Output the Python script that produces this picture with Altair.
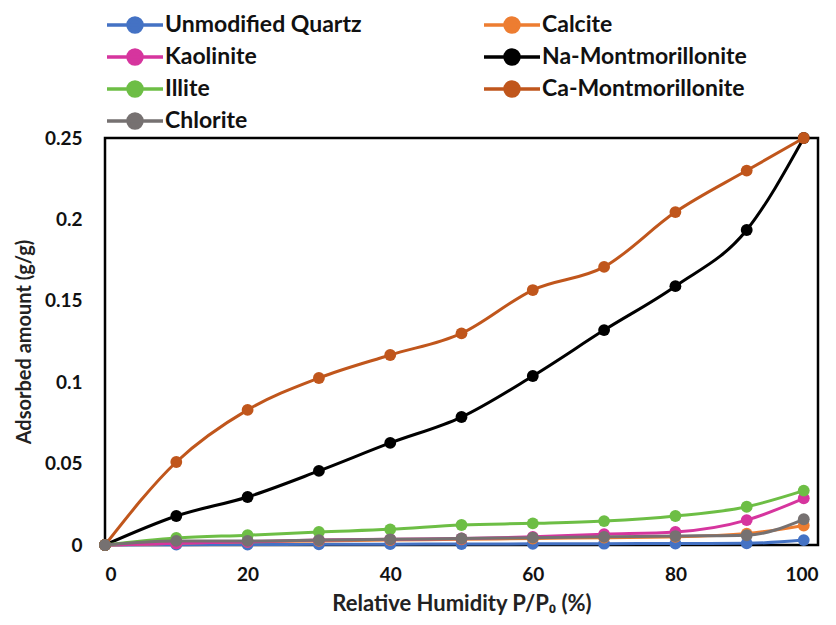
import altair as alt
import pandas as pd

rh = [0, 10, 20, 30, 40, 50, 60, 70, 80, 90, 98]

# drawing order (later series drawn on top)
series_names = ["Unmodified Quartz", "Calcite", "Kaolinite", "Na-Montmorillonite",
                "Illite", "Ca-Montmorillonite", "Chlorite"]
colors = ["#4472C4", "#ED7D31", "#D6359E", "#000000", "#6DBE45", "#C0561C", "#767171"]

# legend order (column-major, two columns)
legend_order = ["Unmodified Quartz", "Kaolinite", "Illite", "Chlorite",
                "Calcite", "Na-Montmorillonite", "Ca-Montmorillonite"]

quartz = [0, 0.0002, 0.0003, 0.0004, 0.0005, 0.0006, 0.0007, 0.0008, 0.0009, 0.001, 0.003]
calcite = [0, 0.001, 0.002, 0.0025, 0.003, 0.0035, 0.004, 0.0045, 0.005, 0.007, 0.012]
kaolinite = [0, 0.001, 0.002, 0.003, 0.0035, 0.004, 0.005, 0.0066, 0.008, 0.0153, 0.0287]
na_mont = [0, 0.0178, 0.0295, 0.0455, 0.0627, 0.0786, 0.1038, 0.132, 0.159, 0.1935, 0.25]
illite = [0, 0.0043, 0.006, 0.008, 0.0096, 0.0123, 0.0133, 0.0147, 0.0178, 0.0235, 0.0334]
ca_mont = [0, 0.051, 0.083, 0.1026, 0.1167, 0.130, 0.1566, 0.1708, 0.2045, 0.230, 0.25]
chlorite = [0, 0.0025, 0.0025, 0.003, 0.0035, 0.004, 0.0045, 0.005, 0.0055, 0.006, 0.0158]

values = [quartz, calcite, kaolinite, na_mont, illite, ca_mont, chlorite]

rows = []
for name, vals in zip(series_names, values):
    for x, y in zip(rh, vals):
        rows.append({"series": name, "rh": x, "amount": y})
df = pd.DataFrame(rows)

color_of = dict(zip(series_names, colors))
FONT = "Lato"

color = alt.Color(
    "series:N",
    scale=alt.Scale(domain=legend_order, range=[color_of[n] for n in legend_order]),
    legend=alt.Legend(
        title=None,
        orient="none",
        legendX=14,
        legendY=-129,
        columns=2,
        columnPadding=115,
        rowPadding=2,
        symbolType="M-2,0L2,0M-0.5,0A0.5,0.5,0,1,1,0.5,0A0.5,0.5,0,1,1,-0.5,0Z",
        symbolSize=784,
        symbolStrokeWidth=3.5,
        labelFont=FONT,
        labelFontSize=23,
        labelFontWeight="bold",
        labelColor="#111111",
        labelOffset=14,
        labelLimit=400,
    ),
)

x = alt.X("rh:Q", scale=alt.Scale(domain=[0, 100], nice=False),
          axis=alt.Axis(values=[0, 20, 40, 60, 80, 100], title="Relative Humidity P/P₀ (%)",
                        grid=False, ticks=False, domain=False, labelPadding=20,
                        titlePadding=9, titleFontSize=22))
y = alt.Y("amount:Q", scale=alt.Scale(domain=[0, 0.25], nice=False),
          axis=alt.Axis(values=[0, 0.05, 0.1, 0.15, 0.2, 0.25], format=".2~f",
                        title="Adsorbed amount (g/g)", grid=False, ticks=False,
                        domain=False, labelPadding=23, titlePadding=10, titleFontSize=20))

layers = []
for name in series_names:
    base = alt.Chart(df).transform_filter(alt.datum.series == name)
    layers.append(base.mark_line(strokeWidth=3, interpolate="monotone").encode(x=x, y=y, color=color))
    layers.append(base.mark_point(filled=True, size=140, opacity=1).encode(x=x, y=y, color=color))

chart = alt.layer(*layers).properties(
    width=713,
    height=407,
    autosize=alt.AutoSizeParams(type="none"),
    padding={"left": 97, "top": 130, "right": 10, "bottom": 72},
).configure_view(
    stroke="black", strokeWidth=2.5
).configure_axis(
    labelFont=FONT, labelFontSize=19, labelFontWeight="bold", labelColor="#111111",
    titleFont=FONT, titleFontWeight="bold", titleColor="#222222",
)

chart.save("out.html", embed_options={"renderer": "svg", "actions": False})
